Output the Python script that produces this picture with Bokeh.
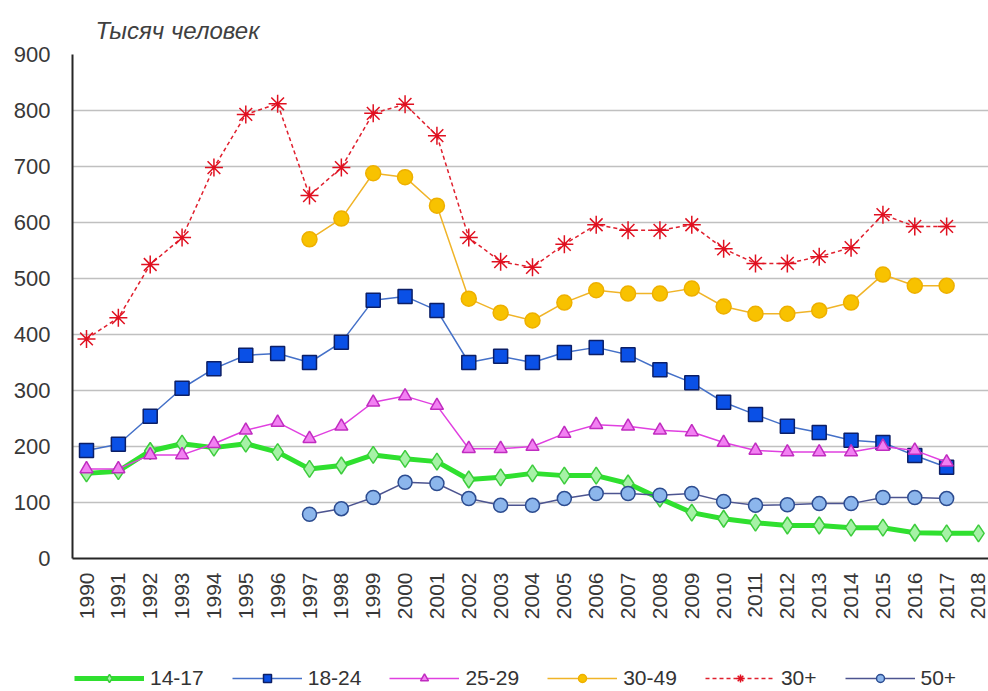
import math
from bokeh.plotting import figure
from bokeh.layouts import column
from bokeh.models import Legend, LegendItem, FixedTicker, Range1d
from bokeh.embed import file_html
from bokeh.resources import INLINE

years = list(range(1990, 2019))
title_text = "Тысяч человек"
y_ticks = [0, 100, 200, 300, 400, 500, 600, 700, 800, 900]

s14_17 = [152, 156, 192, 205, 198, 205, 190, 160, 166, 185,
          178, 173, 141, 145, 152, 148, 148, 134, 107, 82,
          71, 64, 59, 59, 55, 55, 46, 45, 45]
s18_24 = [193, 204, 254, 304, 339, 363, 366, 350, 386, 461,
          468, 443, 350, 361, 350, 368, 377, 364, 337, 314,
          279, 257, 236, 225, 211, 207, 184, 163]
s25_29 = [160, 160, 185, 185, 205, 229, 243, 214, 236, 279,
          290, 273, 196, 196, 200, 223, 239, 236, 229, 226,
          207, 193, 190, 190, 190, 200, 193, 172]
s30_49 = [None] * 7 + [570, 607, 688, 681, 630,
                       464, 439, 425, 457, 479, 473, 473, 482,
                       450, 437, 437, 443, 457, 507, 487, 487]
s30p = [392, 430, 525, 573, 698, 793, 812, 648, 698, 795,
        811, 755, 573, 530, 520, 561, 596, 586, 586, 596,
        553, 527, 527, 539, 555, 614, 593, 593]
s50p = [None] * 7 + [79, 89, 109, 136, 134,
                     107, 95, 95, 107, 116, 116, 113, 116,
                     102, 95, 96, 98, 98, 109, 109, 107]

series = [
    # label, values, line color, line width, dash, marker, size, fill, outline
    ("14-17", s14_17, "#2fe02f", 5, "solid", "diamond", 17, "#a6f2a6", "#3ccc3c"),
    ("18-24", s18_24, "#4470c8", 1.5, "solid", "square", 14, "#0a50e6", "#0c1f66"),
    ("25-29", s25_29, "#e040e0", 1.5, "solid", "triangle", 13, "#f280f2", "#c02cc0"),
    ("30-49", s30_49, "#f0b428", 1.5, "solid", "circle", 15, "#f8c200", "#eeb000"),
    ("30+", s30p, "#e0202e", 1.5, "4 3", "asterisk", 18, "#e01020", "#e01020"),
    ("50+", s50p, "#4c5490", 1.5, "solid", "circle", 14, "#8cb6ec", "#2c4c90"),
]

FONT = "Liberation Sans"

p = figure(width=988, height=650, output_backend="svg", toolbar_location=None,
           x_range=Range1d(1989.5605, 2018.314), y_range=Range1d(0, 900),
           min_border_left=72, min_border_right=0, min_border_top=54,
           min_border_bottom=92, title=title_text)
p.outline_line_color = None
p.background_fill_color = "white"
p.border_fill_color = "white"

p.title.align = "left"
p.title.offset = 23
p.title.text_font = FONT
p.title.text_font_size = "24px"
p.title.text_font_style = "italic"
p.title.text_color = "#404040"
p.title.standoff = 22

p.xgrid.visible = False
p.ygrid.grid_line_color = "#c0c0c0"
p.ygrid.grid_line_width = 1.5

p.yaxis.ticker = FixedTicker(ticks=y_ticks)
p.xaxis.ticker = FixedTicker(ticks=years)
for ax in (p.xaxis, p.yaxis):
    ax.major_tick_in = 0
    ax.major_tick_out = 0
    ax.minor_tick_in = 0
    ax.minor_tick_out = 0
    ax.axis_line_color = "#262626"
    ax.axis_line_width = 2
    ax.major_label_text_font = FONT
    ax.major_label_text_color = "#383838"
p.xaxis.major_label_text_font_size = "21px"
p.yaxis.major_label_text_font_size = "22px"
p.xaxis.major_label_orientation = math.pi / 2
p.xaxis.major_label_standoff = 14
p.yaxis.major_label_standoff = 22

# separate strip below the chart that carries the legend
pl = figure(width=988, height=41, output_backend="svg", toolbar_location=None,
            x_range=Range1d(0, 1), y_range=Range1d(0, 1),
            x_axis_type=None, y_axis_type=None,
            min_border_left=0, min_border_right=0, min_border_top=0,
            min_border_bottom=0)
pl.outline_line_color = None
pl.xgrid.visible = False
pl.ygrid.visible = False

items = []
for label, vals, lc, lw, dash, marker, size, fill, outline in series:
    xs = [y for y, v in zip(years, vals) if v is not None]
    ys = [v for v in vals if v is not None]
    line_kw = dict(line_color=lc, line_width=lw, line_dash=dash)
    if marker == "asterisk":
        mk_kw = dict(marker=marker, size=size, line_color=outline, line_width=1.5)
    else:
        mk_kw = dict(marker=marker, size=size, fill_color=fill,
                     line_color=outline, line_width=1.5)
    p.line(xs, ys, **line_kw)
    p.scatter(xs, ys, **mk_kw)
    # legend samples: same styles, drawn off-range in the legend strip
    lr = pl.line([-5, -4], [-5, -4], **line_kw)
    mr = pl.scatter([-5], [-5], **mk_kw)
    items.append(LegendItem(label=label, renderers=[lr, mr]))

legend = Legend(items=items, orientation="horizontal", location=(2, 1),
                glyph_width=70, glyph_height=20, label_standoff=6, spacing=28,
                padding=0, margin=0, border_line_color=None,
                background_fill_alpha=0, label_text_font=FONT,
                label_text_font_size="21px", label_text_color="#333333")
pl.add_layout(legend, "center")

layout = column(p, pl, spacing=0)
open("out.html", "w").write(file_html(layout, INLINE))
